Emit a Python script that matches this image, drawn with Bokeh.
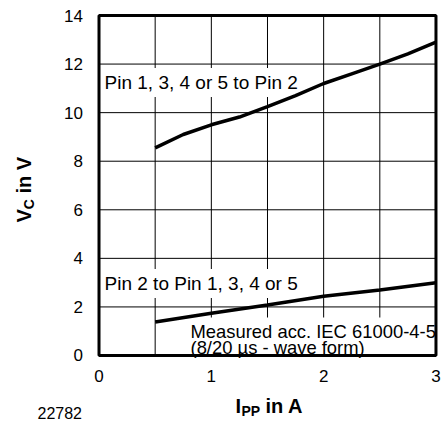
import math
from bokeh.plotting import figure
from bokeh.models import Range1d, FixedTicker, Label, LinearAxis
from bokeh.embed import file_html
from bokeh.resources import INLINE

# ---- data ----
ipp_upper = [0.5, 0.75, 1.0, 1.25, 1.5, 1.75, 2.0, 2.25, 2.5, 2.75, 3.0]
vc_upper = [8.55, 9.1, 9.5, 9.82, 10.25, 10.7, 11.2, 11.6, 12.0, 12.42, 12.9]
ipp_lower = [0.5, 1.0, 1.5, 2.0, 2.5, 3.0]
vc_lower = [1.38, 1.74, 2.08, 2.44, 2.7, 3.0]

x_ticks = [0, 1, 2, 3]
y_ticks = [0, 2, 4, 6, 8, 10, 12, 14]
x_grid = [0.5, 1.0, 1.5, 2.0, 2.5]
y_grid = [2, 4, 6, 8, 10, 12]

label_upper = "Pin 1, 3, 4 or 5 to Pin 2"
label_lower = "Pin 2 to Pin 1, 3, 4 or 5"
note = "Measured acc. IEC 61000-4-5\n(8/20 µs - wave form)"
fig_id = "22782"

FONT = "Liberation Sans"

x0, x1 = x_ticks[0], x_ticks[-1]
y0, y1 = y_ticks[0], y_ticks[-1]

# frame fills the canvas; the chart box (0..3, 0..14) sits inside it
p = figure(width=443, height=421, output_backend="svg", toolbar_location=None,
           x_range=Range1d(-0.877, 3.067), y_range=Range1d(-2.718, 14.618),
           x_axis_type=None, y_axis_type=None,
           min_border=0, min_border_left=0, min_border_right=0,
           min_border_top=0, min_border_bottom=0)
p.background_fill_color = "white"
p.border_fill_color = "white"
p.outline_line_color = None

# axes fixed at the chart box edges (tick labels only)
xax = LinearAxis(ticker=FixedTicker(ticks=x_ticks), fixed_location=y0)
yax = LinearAxis(ticker=FixedTicker(ticks=y_ticks), fixed_location=x0)
for ax in (xax, yax):
    ax.axis_line_color = None
    ax.major_tick_line_color = None
    ax.minor_tick_line_color = None
    ax.major_tick_in = 0
    ax.major_tick_out = 0
    ax.major_label_text_font = FONT
    ax.major_label_text_font_size = "17px"
    ax.major_label_text_color = "black"
xax.major_label_standoff = 15
yax.major_label_standoff = 16
p.add_layout(xax, "below")
p.add_layout(yax, "left")

# grid
p.segment(x0=x_grid, y0=[y0] * len(x_grid), x1=x_grid, y1=[y1] * len(x_grid),
          line_color="black", line_width=1)
p.segment(x0=[x0] * len(y_grid), y0=y_grid, x1=[x1] * len(y_grid), y1=y_grid,
          line_color="black", line_width=1)

def lab(text, x, y, size, **kw):
    l = Label(text=text, x=x, y=y, text_font=FONT, text_font_size=size,
              text_color="black", **kw)
    p.add_layout(l)
    return l

lab(label_upper, 0.0134, 11.24, "19px", text_baseline="middle",
    background_fill_color="white", padding=4)
lab(label_lower, 0.0134, 2.965, "19px", text_baseline="middle",
    background_fill_color="white", padding=4)
lab(note, 0.788, 1.56, "18.4px", text_baseline="top", text_line_height=0.8,
    background_fill_color="white", padding=3)

# curves and box border drawn above the text boxes
p.line(ipp_upper, vc_upper, line_color="black", line_width=3.5, level="overlay")
p.line(ipp_lower, vc_lower, line_color="black", line_width=3.5, level="overlay")
p.quad(left=[x0], right=[x1], bottom=[y0], top=[y1], fill_color=None,
       line_color="black", line_width=3, level="overlay")

# y axis label: V_C in V (rotated)
ya_x, ya_y = -0.672, 5.476
lab("V", ya_x, ya_y, "20px", text_font_style="bold", angle=math.pi / 2,
    text_baseline="middle")
lab("C", ya_x, ya_y, "14px", text_font_style="bold", angle=math.pi / 2,
    text_baseline="middle", y_offset=13.3, x_offset=5)
lab("in V", ya_x, ya_y, "20px", text_font_style="bold", angle=math.pi / 2,
    text_baseline="middle", y_offset=29)

# x axis label: I_PP in A
xa_x, xa_y = 1.215, -2.10
lab("I", xa_x, xa_y, "20px", text_font_style="bold", text_baseline="alphabetic")
lab("PP", xa_x, xa_y, "14px", text_font_style="bold", text_baseline="alphabetic",
    x_offset=6, y_offset=-5)
lab("in A", xa_x, xa_y, "20px", text_font_style="bold", text_baseline="alphabetic",
    x_offset=30)

lab(fig_id, -0.5475, -2.35, "16px", text_baseline="alphabetic")

open("out.html", "w").write(file_html(p, INLINE))
